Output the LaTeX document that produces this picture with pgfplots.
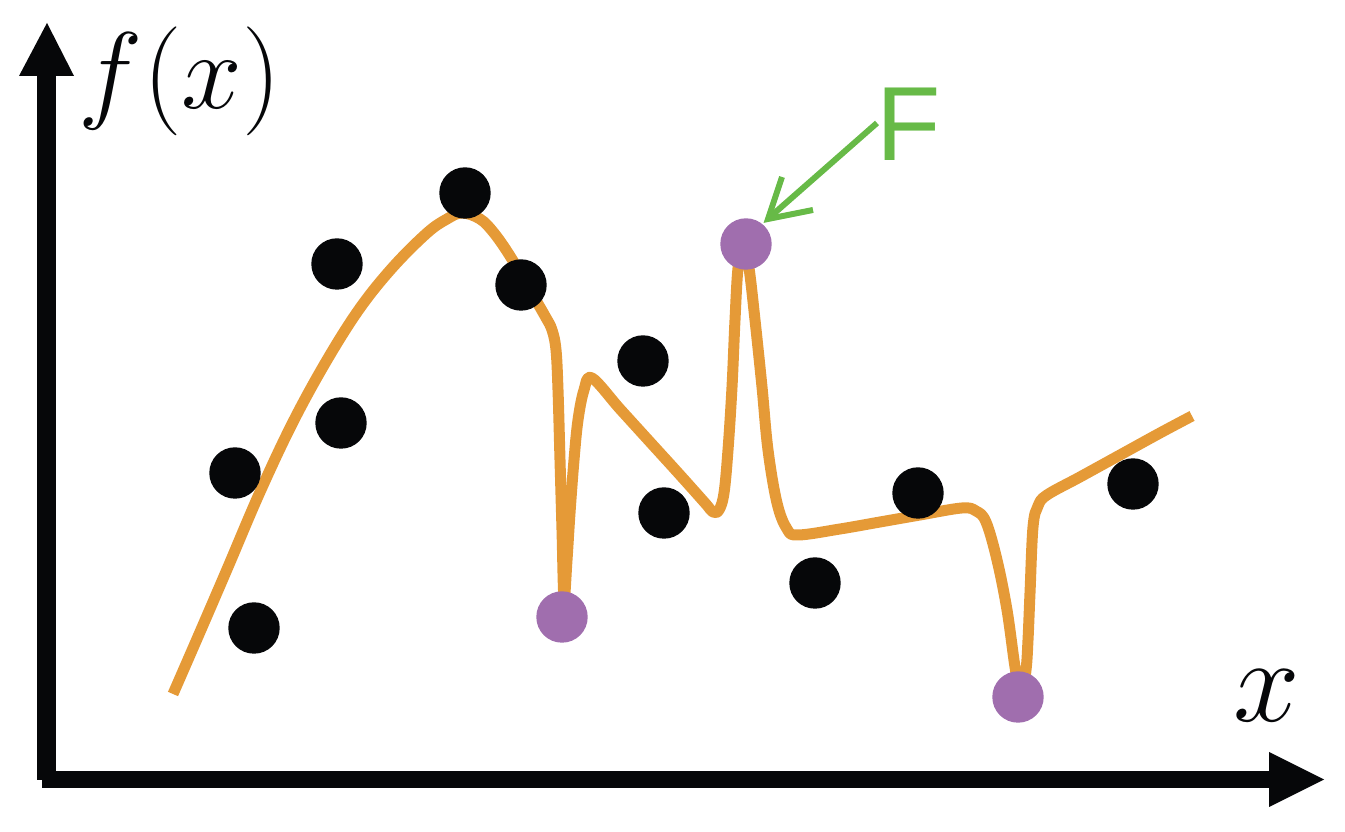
\documentclass[border=0pt]{standalone}
\usepackage{fix-cm}
\usepackage{fontspec}
\usepackage{pgfplots}
\pgfplotsset{compat=1.18}
\newfontfamily\labelsans{Liberation Sans}

\definecolor{curveorange}{RGB}{229,154,55}
\definecolor{outlierpurple}{RGB}{160,110,174}
\definecolor{noteggreen}{RGB}{103,186,71}
\definecolor{dotblack}{RGB}{6,7,9}

% coordinates are in pixels of the 1345x832 sketch, y counted downwards
\begin{document}
\begin{tikzpicture}
\begin{axis}[
  scale only axis,
  width=13.45cm, height=8.32cm,
  xmin=0, xmax=1345, ymin=0, ymax=832,
  y dir=reverse,
  hide axis,
  clip=false
]
% axes with arrow heads
\addplot[dotblack, line width=1.85mm] coordinates {(46.5,780) (46.5,70)};
\addplot[dotblack, line width=1.75mm] coordinates {(42,779.5) (1275,779.5)};
\addplot[fill=dotblack, draw=none] coordinates {(19,76) (47,23) (74,76)} --cycle;
\addplot[fill=dotblack, draw=none] coordinates {(1269,752) (1324,779.5) (1269,807)} --cycle;

% noisy observations
\addplot[dotblack, only marks, mark=*, mark size=2.5mm]
coordinates {
  (235,473) (254,628) (337,264) (341,423) (465,193) (521,285)
  (643,361) (664,513) (815,583) (918,493) (1133,484)
};

% overfitted curve
\addplot[curveorange, line width=1.1mm, smooth, tension=0.6, line join=round]
coordinates {
  (173,694) (200,632) (228,567) (260,492) (293,422) (327,360) (360,308)
  (393,267) (427,233) (447,219) (462,213) (480,219) (494,233) (510,256)
  (527,285) (545,316) (552,330) (556,350) (558,390) (560,460) (562,530)
  (564,598) (567,560) (570,513) (574,460) (578,420) (584,390) (592,378)
  (620,409) (650,442) (680,475) (705,503) (713,512) (719,510) (724,493)
  (728,450) (732,387) (735,320) (738,268) (743,239) (749,268) (755,320)
  (762,387) (768,450) (777,503) (787,529) (798,535) (840,529) (880,522)
  (920,515) (962,508) (976,511) (986,522) (997,560) (1007,610) (1015,667)
  (1021,699) (1026,670) (1028,640) (1030,593) (1033,527) (1038,506)
  (1047,495) (1080,477) (1120,455) (1160,433) (1192,416)
};

% samples the curve is forced through
\addplot[outlierpurple, only marks, mark=*, mark size=2.5mm]
coordinates {(562,617) (746,244) (1018,697)};

% pointer to the label
\addplot[noteggreen, line width=0.6mm] coordinates {(877,123) (770,217)};
\addplot[noteggreen, line width=0.6mm, line join=miter] coordinates {(782,177) (768,219) (813,210)};

\node[inner sep=0pt, text=noteggreen] at (axis cs:909,124)
  {\fontsize{30}{30}\selectfont\labelsans F};
\node[inner sep=0pt, text=dotblack] at (axis cs:180,81)
  {\fontsize{31}{31}\selectfont$f(x)$};
\node[inner sep=0pt, text=dotblack] at (axis cs:1267,695.5)
  {\fontsize{34}{34}\selectfont$x$};
\end{axis}
\pgfresetboundingbox
\path (0,0) rectangle (13.45cm,8.32cm);
\end{tikzpicture}
\end{document}
